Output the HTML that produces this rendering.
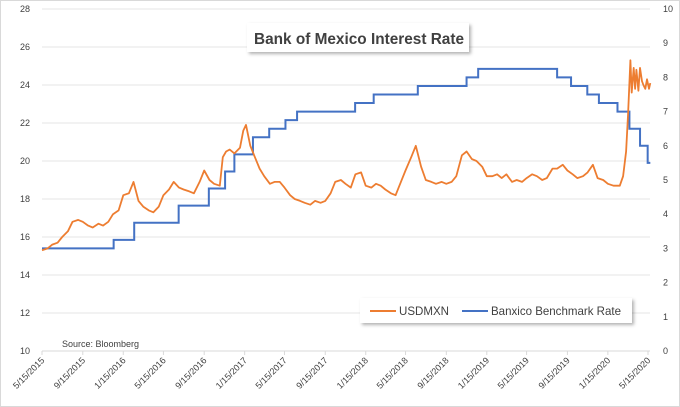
<!DOCTYPE html>
<html><head><meta charset="utf-8"><style>
body{margin:0;background:#fff}
svg{display:block;font-family:"Liberation Sans",sans-serif}
</style></head><body>
<svg id="c" width="680" height="407" viewBox="0 0 680 407">
<defs><filter id="sh" x="-10%" y="-30%" width="125%" height="180%"><feDropShadow dx="2" dy="2" stdDeviation="1.5" flood-color="#000" flood-opacity="0.3"/></filter></defs>
<rect x="0.5" y="0.5" width="679" height="406" fill="#fff" stroke="#d9d9d9"/>
<g id="grid"></g><g id="ax"></g><g id="series"></g>
<g>
<rect x="247" y="23" width="222" height="29" fill="#fff" filter="url(#sh)"/>
<text x="254" y="44" font-size="16" font-weight="bold" fill="#404040" textLength="210" lengthAdjust="spacingAndGlyphs">Bank of Mexico Interest Rate</text>
</g>
<g>
<rect x="360" y="298" width="272" height="25" fill="#fff" filter="url(#sh)"/>
<line x1="370" y1="311" x2="396" y2="311" stroke="#ed7d31" stroke-width="2"/>
<text x="399" y="315" font-size="12" fill="#404040" textLength="50" lengthAdjust="spacingAndGlyphs">USDMXN</text>
<line x1="462" y1="311" x2="488" y2="311" stroke="#4472c4" stroke-width="2"/>
<text x="491" y="315" font-size="12" fill="#404040" textLength="130" lengthAdjust="spacingAndGlyphs">Banxico Benchmark Rate</text>
</g>
<text x="62" y="347" font-size="9" fill="#404040">Source: Bloomberg</text>
</svg>
<script>
const leftTicks=[10,12,14,16,18,20,22,24,26,28];
const rightTicks=[0,1,2,3,4,5,6,7,8,9,10];
const xTickLabels=["5/15/2015","9/15/2015","1/15/2016","5/15/2016","9/15/2016","1/15/2017","5/15/2017","9/15/2017","1/15/2018","5/15/2018","9/15/2018","1/15/2019","5/15/2019","9/15/2019","1/15/2020","5/15/2020"];
const fxDates=["2015-05-15","2015-06-01","2015-06-15","2015-07-01","2015-07-15","2015-08-01","2015-08-15","2015-09-01","2015-09-15","2015-10-01","2015-10-15","2015-11-01","2015-11-15","2015-12-01","2015-12-15","2016-01-01","2016-01-15","2016-02-01","2016-02-15","2016-03-01","2016-03-15","2016-04-01","2016-04-15","2016-05-01","2016-05-15","2016-06-01","2016-06-15","2016-07-01","2016-07-15","2016-08-01","2016-08-15","2016-09-01","2016-09-15","2016-10-01","2016-10-15","2016-11-01","2016-11-10","2016-11-20","2016-12-01","2016-12-15","2017-01-01","2017-01-11","2017-01-19","2017-02-01","2017-02-15","2017-03-01","2017-03-15","2017-04-01","2017-04-15","2017-05-01","2017-05-15","2017-06-01","2017-06-15","2017-07-01","2017-07-15","2017-08-01","2017-08-15","2017-09-01","2017-09-15","2017-10-01","2017-10-15","2017-11-01","2017-11-15","2017-12-01","2017-12-15","2018-01-01","2018-01-15","2018-02-01","2018-02-15","2018-03-01","2018-03-15","2018-04-01","2018-04-15","2018-05-01","2018-05-15","2018-06-01","2018-06-15","2018-07-01","2018-07-15","2018-08-01","2018-08-15","2018-09-01","2018-09-15","2018-10-01","2018-10-15","2018-11-01","2018-11-15","2018-12-01","2018-12-15","2019-01-01","2019-01-15","2019-02-01","2019-02-15","2019-03-01","2019-03-15","2019-04-01","2019-04-15","2019-05-01","2019-05-15","2019-06-01","2019-06-15","2019-07-01","2019-07-15","2019-08-01","2019-08-15","2019-09-01","2019-09-15","2019-10-01","2019-10-15","2019-11-01","2019-11-15","2019-12-01","2019-12-15","2020-01-01","2020-01-15","2020-02-01","2020-02-20","2020-03-01","2020-03-10","2020-03-16","2020-03-23","2020-03-27","2020-04-02","2020-04-06","2020-04-10","2020-04-16","2020-04-21","2020-04-27","2020-05-01","2020-05-07","2020-05-12","2020-05-18","2020-05-22"];
const fxValues=[15.3,15.4,15.6,15.7,16.0,16.3,16.8,16.9,16.8,16.6,16.5,16.7,16.6,16.8,17.2,17.4,18.2,18.3,18.9,17.9,17.6,17.4,17.3,17.6,18.2,18.5,18.9,18.6,18.5,18.4,18.3,18.9,19.5,19.0,18.8,18.7,20.2,20.5,20.6,20.4,20.7,21.6,21.9,20.8,20.2,19.6,19.2,18.8,18.9,18.9,18.6,18.2,18.0,17.9,17.8,17.7,17.9,17.8,17.9,18.3,18.9,19.0,18.8,18.6,19.3,19.4,18.7,18.6,18.8,18.7,18.5,18.3,18.2,18.9,19.5,20.2,20.8,19.7,19.0,18.9,18.8,18.9,18.8,18.9,19.2,20.3,20.5,20.1,20.0,19.7,19.2,19.2,19.3,19.1,19.3,18.9,19.0,18.9,19.1,19.3,19.2,19.0,19.1,19.6,19.6,19.8,19.5,19.3,19.1,19.2,19.4,19.8,19.1,19.0,18.8,18.7,18.7,19.2,20.5,22.5,25.3,23.6,24.9,23.8,24.8,23.7,24.9,24.2,24.0,23.8,24.3,23.8,24.1];
const rateDates=["2015-05-15","2015-12-17","2016-02-17","2016-06-30","2016-09-29","2016-11-17","2016-12-15","2017-02-09","2017-03-30","2017-05-18","2017-06-22","2017-12-14","2018-02-08","2018-06-21","2018-11-15","2018-12-20","2019-08-15","2019-09-26","2019-11-14","2019-12-19","2020-02-13","2020-03-20","2020-04-21","2020-05-14","2020-05-22"];
const rateValues=[3.0,3.25,3.75,4.25,4.75,5.25,5.75,6.25,6.5,6.75,7.0,7.25,7.5,7.75,8.0,8.25,8.0,7.75,7.5,7.25,7.0,6.5,6.0,5.5,5.5];

const NS="http://www.w3.org/2000/svg";
const X0=42,X1=648,Y0=351,Y1=9;
const t0=Date.parse("2015-05-15"),t1=Date.parse("2020-05-15");
function xs(d){return X0+(Date.parse(d)-t0)/(t1-t0)*(X1-X0);}
function yl(v){return Y0-(v-10)/18*(Y0-Y1);}
function yr(v){return Y0-v/10*(Y0-Y1);}
function mk(tag,attrs,parent){const e=document.createElementNS(NS,tag);for(const k in attrs)e.setAttribute(k,attrs[k]);parent.appendChild(e);return e;}
const grid=document.getElementById('grid'),ax=document.getElementById('ax'),se=document.getElementById('series');
leftTicks.forEach(v=>{
  if(v>10){const l=mk('line',{x1:X0,x2:650,y1:yl(v),y2:yl(v),stroke:'#e4e4e4','stroke-width':1},grid);
  
  }
  const t=mk('text',{x:30,y:yl(v)+3,'text-anchor':'end','font-size':9,fill:'#404040'},ax);t.textContent=v;
  
  
});
rightTicks.forEach(v=>{
  const t=mk('text',{x:663,y:yr(v)+3,'text-anchor':'start','font-size':9,fill:'#404040'},ax);t.textContent=v;
  
  
});
const base=mk('line',{x1:X0,x2:650,y1:Y0,y2:Y0,stroke:'#d9d9d9'},ax);


xTickLabels.forEach(lab=>{
  const p=lab.split('/');const d=p[2]+'-'+p[0].padStart(2,'0')+'-'+p[1];const x=xs(d);
  mk('line',{x1:x,x2:x,y1:Y0,y2:Y0+4,stroke:'#d9d9d9'},ax);
  const t=mk('text',{x:x+3,y:Y0+10,'text-anchor':'end','font-size':9,fill:'#404040',transform:`rotate(-45 ${x+3} ${Y0+10})`},ax);t.textContent=lab;
  
  
});
let rp='';rateDates.forEach((d,i)=>{const x=xs(d),y=yr(rateValues[i]);if(i==0)rp+=`M${x},${y}`;else rp+=`H${x}V${y}`;});
const rl=mk('path',{d:rp,fill:'none',stroke:'#4472c4','stroke-width':2},se);


const fp=fxDates.map((d,i)=>`${xs(d).toFixed(1)},${yl(fxValues[i]).toFixed(1)}`).join(' ');
const fl=mk('polyline',{points:fp,fill:'none',stroke:'#ed7d31','stroke-width':1.8,'stroke-linejoin':'round'},se);


</script>
</body></html>
